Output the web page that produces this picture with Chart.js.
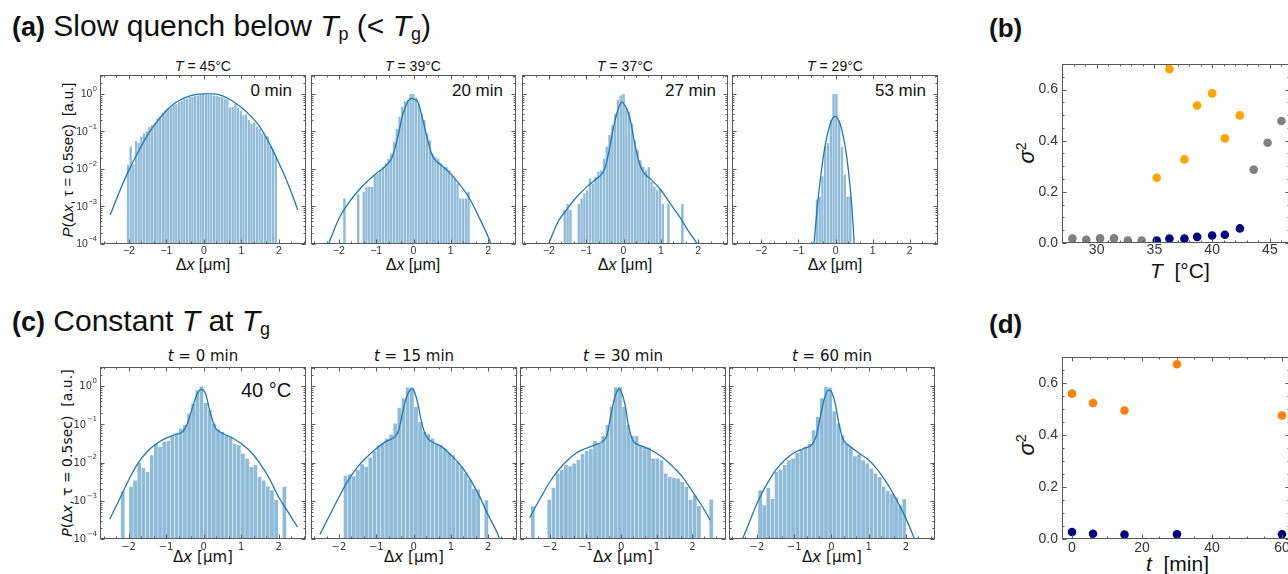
<!DOCTYPE html>
<html>
<head>
<meta charset="utf-8">
<script src="https://cdn.jsdelivr.net/npm/chart.js@4.4.1/dist/chart.umd.min.js"></script>
<style>
html, body { margin: 0; padding: 0; background: #fff; overflow: hidden; }
#fig { position: relative; width: 1288px; height: 574px; overflow: hidden; }
#fig canvas { position: absolute; }
.tx { position: absolute; white-space: nowrap; line-height: 1; color: #111; font-family: 'Liberation Sans', Arial, sans-serif; }
.dv { font-family: 'DejaVu Sans', sans-serif; }
.c { transform: translateX(-50%); }
.rot { transform: translate(-50%, -50%) rotate(-90deg); }
sub.s { font-size: 0.6em; vertical-align: -0.22em; }
b.h { font-size: 27px; }
</style>
</head>
<body>
<div id="fig">
  <div class="tx" style="left:12px;top:11px;font-size:30px"><b class="h">(a)</b> Slow quench below <i>T</i><sub class="s">p</sub> (&lt; <i>T</i><sub class="s">g</sub>)</div>
  <div class="tx" style="left:12px;top:306px;font-size:30px"><b class="h">(c)</b> Constant <i>T</i> at <i>T</i><sub class="s">g</sub></div>
  <div class="tx" style="left:989px;top:15px;font-size:26px"><b>(b)</b></div>
  <div class="tx" style="left:989px;top:311px;font-size:26px"><b>(d)</b></div>

  <div class="tx c" style="left:203px;top:59px;font-size:14px"><i>T</i> = 45°C</div>
  <div class="tx c" style="left:413px;top:59px;font-size:14px"><i>T</i> = 39°C</div>
  <div class="tx c" style="left:625px;top:59px;font-size:14px"><i>T</i> = 37°C</div>
  <div class="tx c" style="left:835px;top:59px;font-size:14px"><i>T</i> = 29°C</div>

  <div class="tx" style="right:996px;top:82px;font-size:17px">0 min</div>
  <div class="tx" style="right:785px;top:82px;font-size:17px">20 min</div>
  <div class="tx" style="right:572px;top:82px;font-size:17px">27 min</div>
  <div class="tx" style="right:362px;top:82px;font-size:17px">53 min</div>
  <div class="tx" style="left:241px;top:380px;font-size:20px">40 °C</div>

  <div class="tx c" style="left:203px;top:257px;font-size:16px">Δ<i>x</i> [μm]</div>
  <div class="tx c" style="left:413px;top:257px;font-size:16px">Δ<i>x</i> [μm]</div>
  <div class="tx c" style="left:625px;top:257px;font-size:16px">Δ<i>x</i> [μm]</div>
  <div class="tx c" style="left:835px;top:257px;font-size:16px">Δ<i>x</i> [μm]</div>

  <div class="tx dv c" style="left:203px;top:349px;font-size:15px"><i>t</i> = 0 min</div>
  <div class="tx dv c" style="left:414px;top:349px;font-size:15px"><i>t</i> = 15 min</div>
  <div class="tx dv c" style="left:623px;top:349px;font-size:15px"><i>t</i> = 30 min</div>
  <div class="tx dv c" style="left:832px;top:349px;font-size:15px"><i>t</i> = 60 min</div>

  <div class="tx dv c" style="left:203px;top:550px;font-size:15px">Δ<i>x</i> [μm]</div>
  <div class="tx dv c" style="left:414px;top:550px;font-size:15px">Δ<i>x</i> [μm]</div>
  <div class="tx dv c" style="left:623px;top:550px;font-size:15px">Δ<i>x</i> [μm]</div>
  <div class="tx dv c" style="left:832px;top:550px;font-size:15px">Δ<i>x</i> [μm]</div>

  <div class="tx rot" style="left:67px;top:160px;font-size:15px"><i>P</i>(Δ<i>x</i>, τ = 0.5sec)&nbsp; [a.u.]</div>
  <div class="tx dv rot" style="left:67px;top:453px;font-size:14px"><i>P</i>(Δ<i>x</i>, τ = 0.5sec)&nbsp; [a.u.]</div>

  <div class="tx rot" style="left:1026px;top:153px;font-size:22px"><i>σ</i><sup style="font-size:0.65em">2</sup></div>
  <div class="tx rot" style="left:1026px;top:445px;font-size:22px"><i>σ</i><sup style="font-size:0.65em">2</sup></div>
  <div class="tx" style="left:1150px;top:260px;font-size:21px"><i>T</i>&nbsp; [°C]</div>
  <div class="tx" style="left:1146px;top:553px;font-size:21px"><i>t</i>&nbsp; [min]</div>
</div>

<script>
// ---------- (a) slow quench: histogram bins and log10 P ----------
const qa45Start = -2.06, qa45Width = 0.0716;
const qa45LogP = [-1.88, -1.39, -1.87, -1.25, -1.30, -1.14, -1.05, -0.99, -0.87, -0.83, -0.76, -0.65, -0.60, -0.50,
  -0.44, -0.38, -0.36, -0.28, -0.27, -0.21, -0.18, -0.14, -0.12, -0.07, -0.07, -0.04, -0.04, -0.02, 0.0,
  -0.02, -0.02, -0.03, -0.04, -0.05, -0.07, -0.08, -0.11, -0.14, -0.36, -0.34, -0.25, -0.36, -0.44, -0.56,
  -0.54, -0.69, -0.78, -0.76, -0.86, -0.92, -1.05, -1.11, -1.12, -1.39, -1.45, -1.69];
const qa45CurveX = [-2.5, -2.25, -2, -1.75, -1.5, -1.25, -1, -0.75, -0.5, -0.25, 0, 0.25, 0.5, 0.75, 1, 1.25, 1.5, 1.75, 2, 2.25, 2.5];
const qa45CurveLogP = [-3.23, -2.60, -2.03, -1.54, -1.09, -0.74, -0.44, -0.23, -0.10, -0.02, 0.0, 0.0, -0.05, -0.18, -0.36, -0.59, -0.89, -1.33, -1.85, -2.42, -3.09];

const qa39Start = -1.89, qa39Width = 0.074;
const qa39LogP = [-2.78, null, null, null, null, -2.67, null, -2.61, -2.47, -2.47, -2.47, -2.16, -2.12, -2.03, -1.94,
  -1.85, -1.72, -1.58, -1.27, -0.92, -0.60, -0.34, -0.20, -0.16, 0.0, 0.0, -0.09, -0.25, -0.52, -0.69, -1.05,
  -1.23, -1.58, -1.67, -1.72, -1.85, -1.94, -1.94, -2.03, -2.16, -2.25, -2.38, -2.78, -2.78, -2.78, -2.60];
const qa39CurveX = [-2.28, -2.0, -1.75, -1.5, -1.25, -1.0, -0.75, -0.59, -0.5, -0.41, -0.28, -0.15, -0.05, 0.02, 0.12, 0.25, 0.39, 0.48, 0.56, 0.75, 1.0, 1.25, 1.5, 1.75, 2.0, 2.08];
const qa39CurveLogP = [-4.0, -3.32, -2.92, -2.60, -2.34, -2.12, -1.92, -1.72, -1.45, -1.09, -0.52, -0.20, -0.12, -0.14, -0.22, -0.69, -1.27, -1.58, -1.74, -1.90, -2.13, -2.43, -2.78, -3.27, -3.80, -4.0];

const qa37Start = -1.61, qa37Width = 0.075;
const qa37LogP = [-3.09, -2.92, -3.08, null, null, -2.92, -2.78, -2.64, -2.56, -2.25, -2.38, -2.20, -2.07, -2.03,
  -1.72, -1.40, -1.09, -0.83, -0.52, -0.16, -0.03, 0.0, -0.38, -0.47, -0.78, -1.23, -1.49, -1.76, -1.94, -2.03,
  -1.94, -2.34, -2.47, -2.56, -2.52, -2.92, null, -2.92, null, null, null, null, -2.92];
const qa37CurveX = [-2.01, -1.75, -1.5, -1.25, -1.0, -0.75, -0.6, -0.5, -0.4, -0.3, -0.2, -0.1, -0.05, 0.0, 0.1, 0.2, 0.3, 0.4, 0.5, 0.6, 0.75, 1.0, 1.25, 1.5, 1.75, 1.98];
const qa37CurveLogP = [-4.0, -3.40, -3.05, -2.74, -2.49, -2.28, -2.16, -1.98, -1.58, -1.05, -0.60, -0.29, -0.22, -0.25, -0.43, -0.78, -1.32, -1.76, -2.03, -2.16, -2.29, -2.56, -2.92, -3.27, -3.67, -4.0];

const qa29Start = -0.54, qa29Width = 0.075;
const qa29LogP = [-2.81, -2.73, -2.19, -1.39, -1.30, -0.68, 0.0, 0.0, -0.70, -1.40, -2.15, -2.73, -2.73];
const qa29CurveX = [-0.58, -0.5, -0.4, -0.3, -0.2, -0.1, -0.02, 0.1, 0.2, 0.3, 0.4, 0.47, 0.5];
const qa29CurveLogP = [-4.0, -3.09, -2.20, -1.49, -1.00, -0.69, -0.60, -0.74, -1.09, -1.67, -2.56, -3.45, -4.0];

// ---------- (c) constant T at Tg ----------
const tc0Start = -2.21, tc0Width = 0.1105;
const tc0LogP = [-2.75, null, -2.63, -2.46, -2.00, -2.13, -2.24, -1.80, -1.50, -1.58, -1.45, -1.43, -1.30, -1.23,
  -1.10, -1.01, -0.71, -0.45, -0.10, 0.0, -0.43, -0.62, -0.97, -1.13, -1.19, -1.28, -1.32, -1.50, -1.54, -1.76,
  -1.89, -2.11, -2.06, -2.37, -2.46, -2.62, -2.72, -2.97, null, -2.63];
const tc0CurveX = [-2.5, -2.25, -2.0, -1.75, -1.5, -1.25, -1.0, -0.75, -0.55, -0.41, -0.28, -0.16, -0.06, 0.05, 0.16, 0.3, 0.43, 0.75, 1.0, 1.25, 1.5, 1.75, 2.0, 2.25, 2.5];
const tc0CurveLogP = [-3.48, -2.98, -2.46, -2.02, -1.71, -1.50, -1.36, -1.26, -1.18, -0.92, -0.50, -0.18, -0.08, -0.18, -0.62, -1.06, -1.19, -1.34, -1.50, -1.71, -2.02, -2.41, -2.90, -3.29, -3.68];

const tc15Start = -1.88, tc15Width = 0.111;
const tc15LogP = [-2.34, -2.30, -2.35, -2.18, -2.04, -2.11, -1.86, -1.69, -1.54, -1.50, -1.36, -1.26, -0.97, -0.56,
  -0.31, -0.03, -0.03, -0.53, -0.93, -1.19, -1.25, -1.36, -1.50, -1.54, -1.63, -1.74, -1.80, -1.98, -2.09, -2.28,
  -2.44, -2.68, -2.70, null, -2.98];
const tc15CurveX = [-2.51, -2.25, -2.0, -1.75, -1.5, -1.25, -1.0, -0.75, -0.5, -0.4, -0.3, -0.2, -0.1, -0.05, 0.0, 0.1, 0.2, 0.3, 0.4, 0.5, 0.75, 1.0, 1.25, 1.5, 1.75, 2.0, 2.25, 2.3];
const tc15CurveLogP = [-3.88, -3.38, -2.90, -2.46, -2.11, -1.85, -1.63, -1.45, -1.32, -1.15, -0.71, -0.31, -0.10, -0.06, -0.10, -0.40, -0.88, -1.23, -1.39, -1.46, -1.58, -1.80, -2.06, -2.41, -2.85, -3.38, -3.86, -4.0];

const tc30Start = -2.54, tc30Width = 0.1165;
const tc30LogP = [-3.14, null, null, null, -2.97, -2.65, -2.28, -2.18, -2.06, -2.09, -2.02, -1.92, -1.76, -1.69,
  -1.63, -1.43, -1.50, -1.30, -1.01, -0.53, -0.03, -0.01, -0.53, -1.01, -1.30, -1.30, -1.54, -1.58, -1.60, -1.89,
  -1.89, -1.93, -2.28, -2.37, -2.39, -2.41, -2.50, -2.63, -2.97, -2.85, -3.13, null, null, -2.96];
const tc30CurveX = [-2.57, -2.25, -2.0, -1.75, -1.5, -1.25, -1.0, -0.75, -0.5, -0.4, -0.3, -0.2, -0.1, -0.05, 0.0, 0.1, 0.2, 0.3, 0.4, 0.5, 0.75, 1.0, 1.25, 1.5, 1.75, 2.0, 2.25, 2.5];
const tc30CurveLogP = [-3.44, -2.90, -2.50, -2.18, -1.93, -1.74, -1.63, -1.54, -1.43, -1.28, -0.80, -0.36, -0.10, -0.07, -0.14, -0.45, -1.01, -1.36, -1.50, -1.54, -1.63, -1.76, -1.93, -2.15, -2.41, -2.76, -3.11, -3.51];

const tc60Start = -1.97, tc60Width = 0.1106;
const tc60LogP = [-2.72, -3.11, -2.65, -2.94, -2.24, -2.18, -2.06, -1.93, -1.89, -1.74, -1.65, -1.58, -1.51, -1.15,
  -0.80, -0.31, -0.01, -0.03, -0.65, -0.97, -1.28, -1.50, -1.58, -1.83, -1.78, -1.93, -2.02, -2.15, -2.28, -2.37,
  -2.63, -2.73, -2.81, -2.90, -3.12, -2.95];
const tc60CurveX = [-2.39, -2.25, -2.0, -1.75, -1.5, -1.25, -1.0, -0.75, -0.5, -0.4, -0.3, -0.2, -0.1, -0.05, 0.0, 0.1, 0.2, 0.3, 0.4, 0.5, 0.75, 1.0, 1.25, 1.5, 1.75, 2.0, 2.23];
const tc60CurveLogP = [-4.0, -3.68, -3.07, -2.59, -2.20, -1.93, -1.74, -1.63, -1.50, -1.28, -0.80, -0.36, -0.11, -0.10, -0.14, -0.45, -0.97, -1.36, -1.50, -1.58, -1.76, -1.93, -2.20, -2.55, -2.98, -3.46, -4.0];

// ---------- (b) sigma^2 vs T ----------
const quenchGrayT = [27.9, 29.1, 30.3, 31.5, 32.7, 33.9, 43.6, 44.8, 46.0];
const quenchGraySig = [0.017, 0.013, 0.018, 0.018, 0.010, 0.010, 0.287, 0.392, 0.477];
const quenchT = [35.2, 36.3, 37.6, 38.7, 40.0, 41.1, 42.4];
const quenchOrangeSig = [0.255, 0.680, 0.327, 0.538, 0.585, 0.409, 0.499];
const quenchNavySig = [0.010, 0.017, 0.017, 0.024, 0.029, 0.032, 0.057];

// ---------- (d) sigma^2 vs t ----------
const constT = [0, 6, 15, 30, 60];
const constOrangeSig = [0.559, 0.523, 0.494, 0.672, 0.475];
const constNavySig = [0.027, 0.020, 0.017, 0.018, 0.018];

// ---------- ticks ----------
const histXMajor = [-2, -1, 0, 1, 2];
const histXLabels = ['−2', '−1', '0', '1', '2'];
const histYMajor = [1e-4, 1e-3, 1e-2, 1e-1, 1];
const histYExp = ['−4', '−3', '−2', '−1', '0'];
const histXMinor = [];
for (let k = -8; k <= 8; k++) if (k % 3 !== 0) histXMinor.push(k / 3);
const histYMinor = [];
for (let e = -4; e <= 0; e++) for (let m = 2; m <= 9; m++) histYMinor.push(m * Math.pow(10, e));

const sigMajor = [0, 0.2, 0.4, 0.6];
const sigLabels = ['0.0', '0.2', '0.4', '0.6'];
const sigMinor = [];
for (let k = 0; k <= 14; k++) sigMinor.push(k * 0.05);
const tempMajor = [30, 35, 40, 45];
const tempLabels = ['30', '35', '40', '45'];
const tempMinor = [];
for (let k = 27; k <= 47; k++) tempMinor.push(k);
const timeMajor = [0, 20, 40, 60];
const timeLabels = ['0', '20', '40', '60'];
const timeMinor = [];
for (let k = 0; k <= 60; k += 5) timeMinor.push(k);

// frame + inward ticks on all four sides, tick labels
function frameTicks(cfg) {
  return {
    id: 'frameTicks',
    afterDatasetsDraw(chart) {
      const { ctx, chartArea: a } = chart;
      const sx = chart.scales.x, sy = chart.scales.y;
      const inX = v => v >= sx.min - 1e-9 && v <= sx.max + 1e-9;
      const inY = v => v >= sy.min - 1e-12 && v <= sy.max + 1e-9;
      const L = a.left + 0.5, R = a.right - 0.5, T = a.top + 0.5, B = a.bottom - 0.5;
      ctx.save();
      ctx.strokeStyle = '#5a5a5a';
      ctx.lineWidth = 1;
      ctx.beginPath();
      const xt = (v, len) => {
        const p = Math.round(sx.getPixelForValue(v)) + 0.5;
        ctx.moveTo(p, B); ctx.lineTo(p, B - len);
        ctx.moveTo(p, T); ctx.lineTo(p, T + len);
      };
      const yt = (v, len) => {
        const p = Math.round(sy.getPixelForValue(v)) + 0.5;
        ctx.moveTo(L, p); ctx.lineTo(L + len, p);
        ctx.moveTo(R, p); ctx.lineTo(R - len, p);
      };
      cfg.xMajor.filter(inX).forEach(v => xt(v, 4));
      cfg.xMinor.filter(inX).forEach(v => xt(v, 2));
      cfg.yMajor.filter(inY).forEach(v => yt(v, 4));
      cfg.yMinor.filter(inY).forEach(v => yt(v, 2));
      ctx.stroke();
      ctx.strokeRect(L, T, R - L, B - T);

      ctx.fillStyle = '#333';
      ctx.font = cfg.font;
      ctx.textAlign = 'center';
      ctx.textBaseline = 'alphabetic';
      cfg.xLabels.forEach((s, i) => ctx.fillText(s, sx.getPixelForValue(cfg.xMajor[i]), a.bottom + cfg.xOff));
      if (cfg.yLabels) {
        ctx.textAlign = 'right';
        ctx.textBaseline = 'middle';
        cfg.yLabels.forEach((s, i) => ctx.fillText(s, a.left - 4, sy.getPixelForValue(cfg.yMajor[i])));
      }
      if (cfg.yExp) {
        ctx.textAlign = 'right';
        ctx.textBaseline = 'middle';
        cfg.yExp.forEach((e, i) => {
          const py = sy.getPixelForValue(cfg.yMajor[i]);
          ctx.font = cfg.supFont;
          const ew = ctx.measureText(e).width;
          ctx.fillText(e, a.left - 3, py - 5);
          ctx.font = cfg.font;
          ctx.fillText('10', a.left - 3.5 - ew, py + 0.5);
        });
      }
      ctx.restore();
    }
  };
}

const PAD = { left: 50, right: 8, top: 8, bottom: 30 };

function place(rect) {
  const cv = document.createElement('canvas');
  const w = rect.r - rect.l + PAD.left + PAD.right;
  const h = rect.b - rect.t + PAD.top + PAD.bottom;
  cv.width = w; cv.height = h;
  cv.style.left = (rect.l - PAD.left) + 'px';
  cv.style.top = (rect.t - PAD.top) + 'px';
  cv.style.width = w + 'px';
  cv.style.height = h + 'px';
  document.getElementById('fig').appendChild(cv);
  return cv;
}

function histChart(p) {
  const bars = p.logP.map((v, i) => ({ x: p.start + (i + 0.5) * p.width, y: v === null ? null : Math.pow(10, v) }));
  const curve = p.curveX.map((x, i) => ({ x, y: Math.pow(10, p.curveLogP[i]) }));
  return new Chart(place(p.rect), {
    type: 'bar',
    data: {
      datasets: [
        { type: 'bar', data: bars, backgroundColor: 'rgba(31,119,180,0.5)', borderColor: 'rgba(255,255,255,0.75)',
          borderWidth: 0.5, barPercentage: 1, categoryPercentage: 1, skipNull: true, order: 2 },
        { type: 'line', data: curve, borderColor: '#1f77b4', borderWidth: 1.3, pointRadius: 0,
          cubicInterpolationMode: 'monotone', fill: false, order: 1 }
      ]
    },
    options: {
      responsive: false, animation: false, devicePixelRatio: 1, events: [],
      layout: { padding: PAD },
      scales: {
        x: { type: 'linear', min: p.xr[0], max: p.xr[1], offset: false, display: false },
        y: { type: 'logarithmic', min: 1e-4, max: 3.2, beginAtZero: false, display: false }
      },
      plugins: { legend: { display: false }, tooltip: { enabled: false } }
    },
    plugins: [frameTicks({
      xMajor: histXMajor, xMinor: histXMinor, yMajor: histYMajor, yMinor: histYMinor,
      xLabels: histXLabels, xOff: p.dv ? 10.5 : 9.5,
      yExp: p.first ? histYExp : null,
      font: p.dv ? '10px "DejaVu Sans"' : '10.5px "Liberation Sans"',
      supFont: p.dv ? '7px "DejaVu Sans"' : '7.5px "Liberation Sans"'
    })]
  });
}

const histPanels = [
  { rect: { l: 100, t: 75, r: 306, b: 244 }, xr: [-2.77, 2.72], start: qa45Start, width: qa45Width, logP: qa45LogP, curveX: qa45CurveX, curveLogP: qa45CurveLogP, first: true },
  { rect: { l: 311, t: 75, r: 516, b: 244 }, xr: [-2.75, 2.75], start: qa39Start, width: qa39Width, logP: qa39LogP, curveX: qa39CurveX, curveLogP: qa39CurveLogP },
  { rect: { l: 522, t: 75, r: 728, b: 244 }, xr: [-2.72, 2.80], start: qa37Start, width: qa37Width, logP: qa37LogP, curveX: qa37CurveX, curveLogP: qa37CurveLogP },
  { rect: { l: 732, t: 75, r: 938, b: 244 }, xr: [-2.79, 2.76], start: qa29Start, width: qa29Width, logP: qa29LogP, curveX: qa29CurveX, curveLogP: qa29CurveLogP },
  { rect: { l: 100, t: 367, r: 306, b: 539 }, xr: [-2.76, 2.73], start: tc0Start, width: tc0Width, logP: tc0LogP, curveX: tc0CurveX, curveLogP: tc0CurveLogP, first: true, dv: true },
  { rect: { l: 311, t: 367, r: 517, b: 539 }, xr: [-2.75, 2.77], start: tc15Start, width: tc15Width, logP: tc15LogP, curveX: tc15CurveX, curveLogP: tc15CurveLogP, dv: true },
  { rect: { l: 520, t: 367, r: 726, b: 539 }, xr: [-2.84, 2.94], start: tc30Start, width: tc30Width, logP: tc30LogP, curveX: tc30CurveX, curveLogP: tc30CurveLogP, dv: true },
  { rect: { l: 729, t: 367, r: 935, b: 539 }, xr: [-2.75, 2.78], start: tc60Start, width: tc60Width, logP: tc60LogP, curveX: tc60CurveX, curveLogP: tc60CurveLogP, dv: true }
];
histPanels.forEach(histChart);

function sigmaChart(rect, xr, sets, xMajor, xMinor, xLabels, xOff) {
  return new Chart(place(rect), {
    type: 'scatter',
    data: {
      datasets: sets.map(s => ({
        data: s.x.map((x, i) => ({ x, y: s.y[i] })),
        backgroundColor: s.color, borderWidth: 0, pointRadius: 4.3
      }))
    },
    options: {
      responsive: false, animation: false, devicePixelRatio: 1, events: [],
      layout: { padding: PAD },
      scales: {
        x: { type: 'linear', min: xr[0], max: xr[1], display: false },
        y: { type: 'linear', min: 0, max: 0.7, display: false }
      },
      plugins: { legend: { display: false }, tooltip: { enabled: false } }
    },
    plugins: [frameTicks({
      xMajor, xMinor, yMajor: sigMajor, yMinor: sigMinor,
      xLabels, xOff, yLabels: sigLabels, font: '14px "Liberation Sans"'
    })]
  });
}

sigmaChart({ l: 1062, t: 64, r: 1290, b: 243 }, [27, 46.74], [
  { x: quenchGrayT, y: quenchGraySig, color: '#808080' },
  { x: quenchT, y: quenchOrangeSig, color: '#ffa500' },
  { x: quenchT, y: quenchNavySig, color: '#000080' }
], tempMajor, tempMinor, tempLabels, 11);

sigmaChart({ l: 1062, t: 357, r: 1290, b: 539 }, [-2.86, 62.3], [
  { x: constT, y: constOrangeSig, color: '#ff7f0e' },
  { x: constT, y: constNavySig, color: '#000080' }
], timeMajor, timeMinor, timeLabels, 12.5);
</script>
</body>
</html>
